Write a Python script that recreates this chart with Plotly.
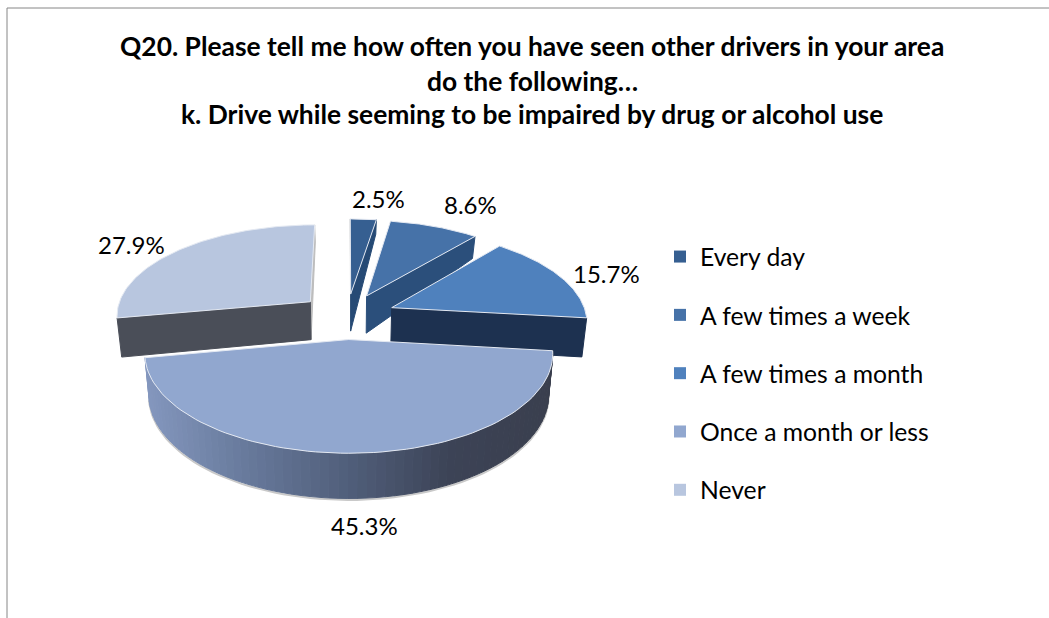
import math
import plotly.graph_objects as go

title_lines = ["Q20. Please tell me how often you have seen other drivers in your area",
               "do the following…",
               "k. Drive while seeming to be impaired by drug or alcohol use"]
categories = ["Every day", "A few times a week", "A few times a month", "Once a month or less", "Never"]
values = [2.5, 8.6, 15.7, 45.3, 27.9]
top_colors = ["#365f91", "#4672a8", "#4f81bd", "#91a7cf", "#b8c6df"]
side_colors = ["#264a75", "#2b4f7b", "#1d3150", None, "#4a4e58"]
label_pos = [(378, 198), (470, 204), (606, 273), (364, 525), (131, 244)]

# projection of the tilted pie (pixel-like axes)
CX, CY, RX, RY, K, EXPLODE = 347, 316, 195, 91, 0.137, 0.25
FONT = "Lato"
side_stops = [(0.0, (132, 151, 190)), (0.25, (103, 121, 155)), (0.5, (80, 94, 122)),
              (0.75, (60, 67, 86)), (1.0, (58, 63, 78))]


def depth(v):
    return 39 - 5 * v - (12 * v * v if v > 0 else 0)


def top(u, v):
    d = 1 + K * v
    return CX + RX * u / d, CY - RY * v / d


def bottom(u, v):
    x, y = top(u, v)
    return CX + (x - CX) * 0.98, y + depth(v)


def polar(theta):
    return math.sin(theta), math.cos(theta)


def poly(points, fill, line=None, width=0.0):
    xs = [p[0] for p in points] + [points[0][0]]
    ys = [p[1] for p in points] + [points[0][1]]
    return go.Scatter(x=xs, y=ys, mode="lines", fill="toself", fillcolor=fill,
                      line=dict(color=line or fill, width=width or 1),
                      hoverinfo="skip", showlegend=False)


def grad(t):
    for (a, ca), (b, cb) in zip(side_stops, side_stops[1:]):
        if t <= b:
            f = (t - a) / (b - a)
            return "rgb(%d,%d,%d)" % tuple(round(p + (q - p) * f) for p, q in zip(ca, cb))
    return "rgb(%d,%d,%d)" % side_stops[-1][1]


bounds = [0.0]
for val in values:
    bounds.append(bounds[-1] + val / sum(values) * 2 * math.pi)

slices = []
for i in range(len(values)):
    a, b = bounds[i], bounds[i + 1]
    mu, mv = polar((a + b) / 2)
    slices.append((a, b, mu * EXPLODE, mv * EXPLODE))


def arc(i, t):
    a, b, ox, oy = slices[i]
    u, v = polar(t)
    return u + ox, v + oy


def radial_face(i, theta, color):
    a, b, ox, oy = slices[i]
    end = arc(i, theta)
    return poly([top(ox, oy), top(*end), bottom(*end), bottom(ox, oy)], color)


def top_face(i):
    a, b, ox, oy = slices[i]
    n = 80
    pts = [top(ox, oy)] + [top(*arc(i, a + (b - a) * j / n)) for j in range(n + 1)]
    return poly(pts, top_colors[i], "#e4e9f2", 1)


traces = []
# Never (back left)
traces.append(radial_face(4, slices[4][1], "#bdbdbd"))
traces.append(radial_face(4, slices[4][0], side_colors[4]))
traces.append(top_face(4))
# Every day, few times a week, few times a month
traces.append(radial_face(0, slices[0][0], "#bdbdbd"))
for i in (0, 1, 2):
    traces.append(radial_face(i, slices[i][1], side_colors[i]))
    traces.append(top_face(i))

# Once a month or less: shadow, curved wall with its shading, then top
a4, b4, _, _ = slices[3]
wall_a = max(a4, math.pi / 2)
n_wall = 70
wall = [wall_a + (b4 - wall_a) * j / n_wall for j in range(n_wall + 1)]
shadow = [bottom(*arc(3, t)) for t in wall]
traces.append(go.Scatter(x=[p[0] for p in shadow], y=[p[1] + 1.5 for p in shadow], mode="lines",
                         line=dict(color="#c9c9c9", width=2), hoverinfo="skip", showlegend=False))
xmin = top(*arc(3, b4))[0]
xmax = top(*arc(3, a4))[0]
for t0, t1 in zip(wall, wall[1:]):
    p0, p1 = arc(3, t0), arc(3, t1)
    mid = (top(*p0)[0] + top(*p1)[0]) / 2
    col = grad((mid - xmin) / (xmax - xmin))
    traces.append(poly([top(*p0), top(*p1), bottom(*p1), bottom(*p0)], col))
traces.append(top_face(3))

# legend
for c, name, col in zip(range(5), categories, top_colors):
    traces.append(go.Scatter(x=[None], y=[None], mode="markers", name=name, legendgroup=name,
                             marker=dict(symbol="square", size=12, color=col), hoverinfo="skip"))

fig = go.Figure(traces)

annotations = []
for text, y in zip(title_lines, (46, 81, 114)):
    annotations.append(dict(x=532, y=y, xref="x", yref="y", text="<b>%s</b>" % text, showarrow=False,
                            font=dict(family=FONT, size=26.4, color="#000000")))
for val, (x, y) in zip(values, label_pos):
    annotations.append(dict(x=x, y=y, xref="x", yref="y", text="%.1f%%" % val, showarrow=False,
                            font=dict(family=FONT, size=24, color="#000000")))

fig.update_layout(
    width=1049, height=618, margin=dict(l=0, r=0, t=0, b=0),
    paper_bgcolor="white", plot_bgcolor="white",
    xaxis=dict(range=[0, 1049], visible=False, fixedrange=True),
    yaxis=dict(range=[618, 0], visible=False, fixedrange=True),
    annotations=annotations,
    shapes=[dict(type="line", xref="x", yref="y", x0=7, x1=7, y0=8, y1=618, line=dict(color="#868686", width=1)),
            dict(type="line", xref="x", yref="y", x0=7, x1=1049, y0=8, y1=8, line=dict(color="#868686", width=1))],
    legend=dict(x=660 / 1049, y=1 - 234 / 618, xanchor="left", yanchor="top", tracegroupgap=23.2,
                font=dict(family=FONT, size=24.7, color="#000000"), bgcolor="rgba(0,0,0,0)", itemwidth=30),
    showlegend=True,
)
fig.write_html("out.html", config={"displayModeBar": False},
               post_script="document.body.style.margin='0';document.body.style.overflow='hidden';")
